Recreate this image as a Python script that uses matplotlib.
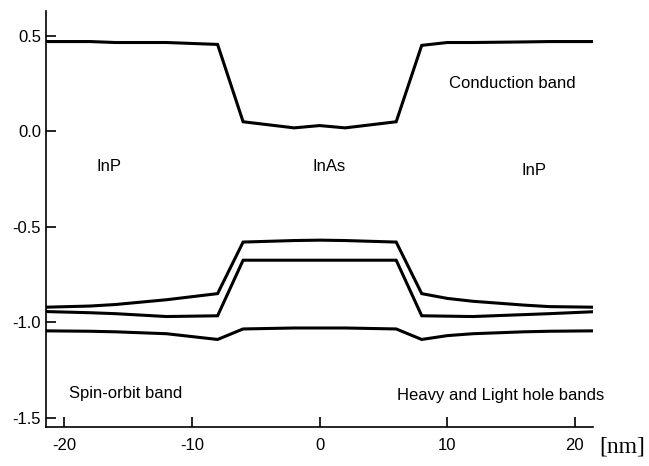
import numpy as np
import matplotlib
matplotlib.use("Agg")
import matplotlib.pyplot as plt

# position along growth direction [nm]
x = [-21.4, -18, -16, -12, -8, -6, -2, 0, 2, 6, 8, 10, 12, 16, 18, 21.4]

# band edges [eV]
conduction = [0.47, 0.47, 0.465, 0.465, 0.455, 0.05, 0.018, 0.03, 0.018, 0.05, 0.45, 0.465, 0.465, 0.468, 0.47, 0.47]
heavy_hole = [-0.921, -0.915, -0.907, -0.882, -0.85, -0.58, -0.572, -0.57, -0.572, -0.58, -0.85, -0.875, -0.89, -0.91, -0.918, -0.921]
light_hole = [-0.944, -0.95, -0.955, -0.97, -0.966, -0.675, -0.675, -0.675, -0.675, -0.675, -0.966, -0.968, -0.97, -0.96, -0.955, -0.945]
spin_orbit = [-1.045, -1.047, -1.05, -1.06, -1.09, -1.035, -1.03, -1.03, -1.03, -1.035, -1.09, -1.07, -1.06, -1.05, -1.047, -1.045]

xticks = [-20, -10, 0, 10, 20]
yticks = [0.5, 0.0, -0.5, -1.0, -1.5]

plt.rcParams['font.family'] = ['Liberation Sans', 'DejaVu Sans']

fig = plt.figure(figsize=(6.49, 4.66), dpi=100)
ax = fig.add_axes([46 / 649, 1 - 427.3 / 466, (593.3 - 46) / 649, (427.3 - 11) / 466])

for band in [conduction, heavy_hole, light_hole, spin_orbit]:
    ax.plot(x, band, color='black', lw=2.2, solid_joinstyle='miter')

ax.set_xlim(-21.45, 21.45)
ax.set_ylim(-1.55, 0.63)
ax.set_xticks(xticks)
ax.set_xticklabels([str(t) for t in xticks])
ax.set_yticks(yticks)
ax.set_yticklabels(['%.1f' % t for t in yticks])
ax.tick_params(direction='in', length=7, width=1.2, labelsize=12, pad=3.5)
ax.tick_params(axis='x', pad=8)
ax.spines['top'].set_visible(False)
ax.spines['right'].set_visible(False)
ax.spines['left'].set_linewidth(1.2)
ax.spines['bottom'].set_linewidth(1.2)

fs = 12
ax.text(-16.5, -0.185, 'InP', ha='center', va='center', fontsize=fs)
ax.text(0.75, -0.185, 'InAs', ha='center', va='center', fontsize=fs)
ax.text(16.8, -0.205, 'InP', ha='center', va='center', fontsize=fs)
ax.text(15.1, 0.25, 'Conduction band', ha='center', va='center', fontsize=fs)
ax.text(-15.2, -1.374, 'Spin-orbit band', ha='center', va='center', fontsize=fs)
ax.text(14.2, -1.386, 'Heavy and Light hole bands', ha='center', va='center', fontsize=fs)
fig.text(622 / 649, 1 - 447 / 466, '[nm]', ha='center', va='center', fontsize=17,
         family=['Liberation Serif', 'DejaVu Serif'])

fig.savefig('out.png', dpi=100)
